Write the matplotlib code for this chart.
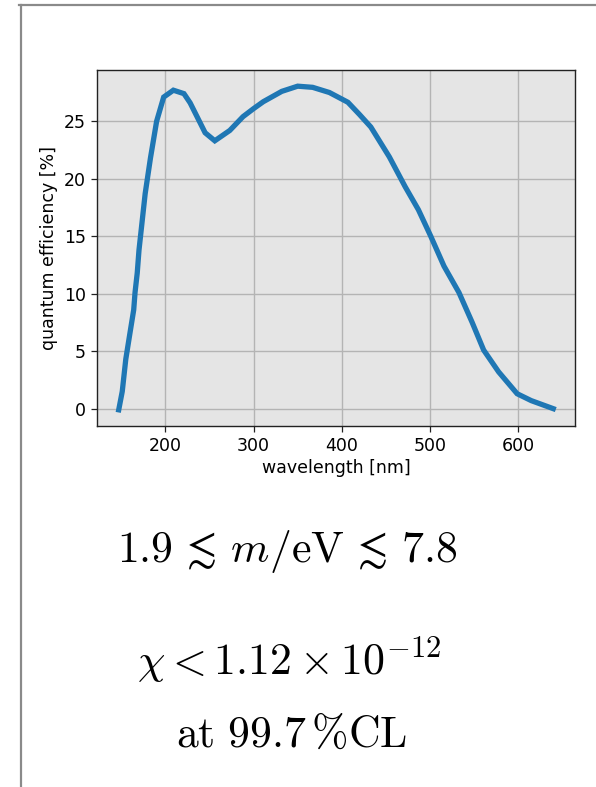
import matplotlib
matplotlib.use("Agg")
import matplotlib.pyplot as plt
from matplotlib.lines import Line2D

# Photocathode quantum efficiency vs. wavelength
wavelength_nm = [147, 151, 155, 160, 164, 165.5, 168, 170, 177, 183, 190, 198,
                 209, 221, 228, 245, 256, 273, 288, 300, 311, 332, 350, 367,
                 386, 407, 420, 433, 454, 472, 487, 501, 516, 533, 548, 561,
                 578, 599, 615, 640]
qe_percent = [-0.1, 1.5, 4.3, 6.7, 8.6, 10.1, 11.8, 13.8, 18.7, 21.8, 25.0, 27.1,
              27.7, 27.4, 26.6, 24.0, 23.3, 24.2, 25.4, 26.1, 26.7, 27.6, 28.05, 27.95,
              27.5, 26.65, 25.6, 24.5, 21.9, 19.3, 17.3, 15.0, 12.4, 10.1, 7.5, 5.1,
              3.2, 1.3, 0.7, 0.0]
x_ticks = [200, 300, 400, 500, 600]
y_ticks = [0, 5, 10, 15, 20, 25]

result_lines = [
    r"$1.9 \,\lesssim\, m/\mathrm{eV} \,\lesssim\, 7.8$",
    r"$\chi < 1.12 \times 10^{-12}$",
    r"$\mathrm{at}\ 99.7\,\%\mathrm{CL}$",
]

plt.rcParams["mathtext.fontset"] = "cm"
plt.rcParams["font.family"] = "DejaVu Sans"

W, H = 596, 787
fig = plt.figure(figsize=(W / 100, H / 100), dpi=100)
fig.patch.set_facecolor("white")

ax = fig.add_axes([97 / W, 1 - 426 / H, 478 / W, 356 / H])
ax.set_facecolor("#e5e5e5")
ax.plot(wavelength_nm, qe_percent, color="#1f77b4", lw=3.8, solid_joinstyle="miter")
ax.set_xticks(x_ticks)
ax.set_yticks(y_ticks)
ax.grid(True, color="#b4b4b4", lw=1.0)
ax.set_axisbelow(True)
for s in ax.spines.values():
    s.set_color("#222222")
    s.set_linewidth(1.0)
ax.tick_params(direction="out", length=4.5, width=0.9, pad=3.5, colors="#222222",
               labelsize=12.5, labelcolor="black")
ax.set_xlabel("wavelength [nm]", fontsize=12.5, labelpad=3)
ax.set_ylabel("quantum efficiency [%]", fontsize=12.5, labelpad=4)

# Panel frame lines
fig.add_artist(Line2D([19 / W, 1.0], [1 - 5 / H, 1 - 5 / H],
                      transform=fig.transFigure, color="#8a8a8a", lw=1.6))
fig.add_artist(Line2D([21 / W, 21 / W], [1 - 5 / H, 0.0],
                      transform=fig.transFigure, color="#8a8a8a", lw=1.6))

# Result summary
positions = [(287 / W, 1 - 562 / H), (289 / W, 1 - 675 / H), (292 / W, 1 - 747 / H)]
for txt, (x, y) in zip(result_lines, positions):
    fig.text(x, y, txt, fontsize=31.5, ha="center", va="baseline", color="black")

fig.savefig("out.png", dpi=100)
